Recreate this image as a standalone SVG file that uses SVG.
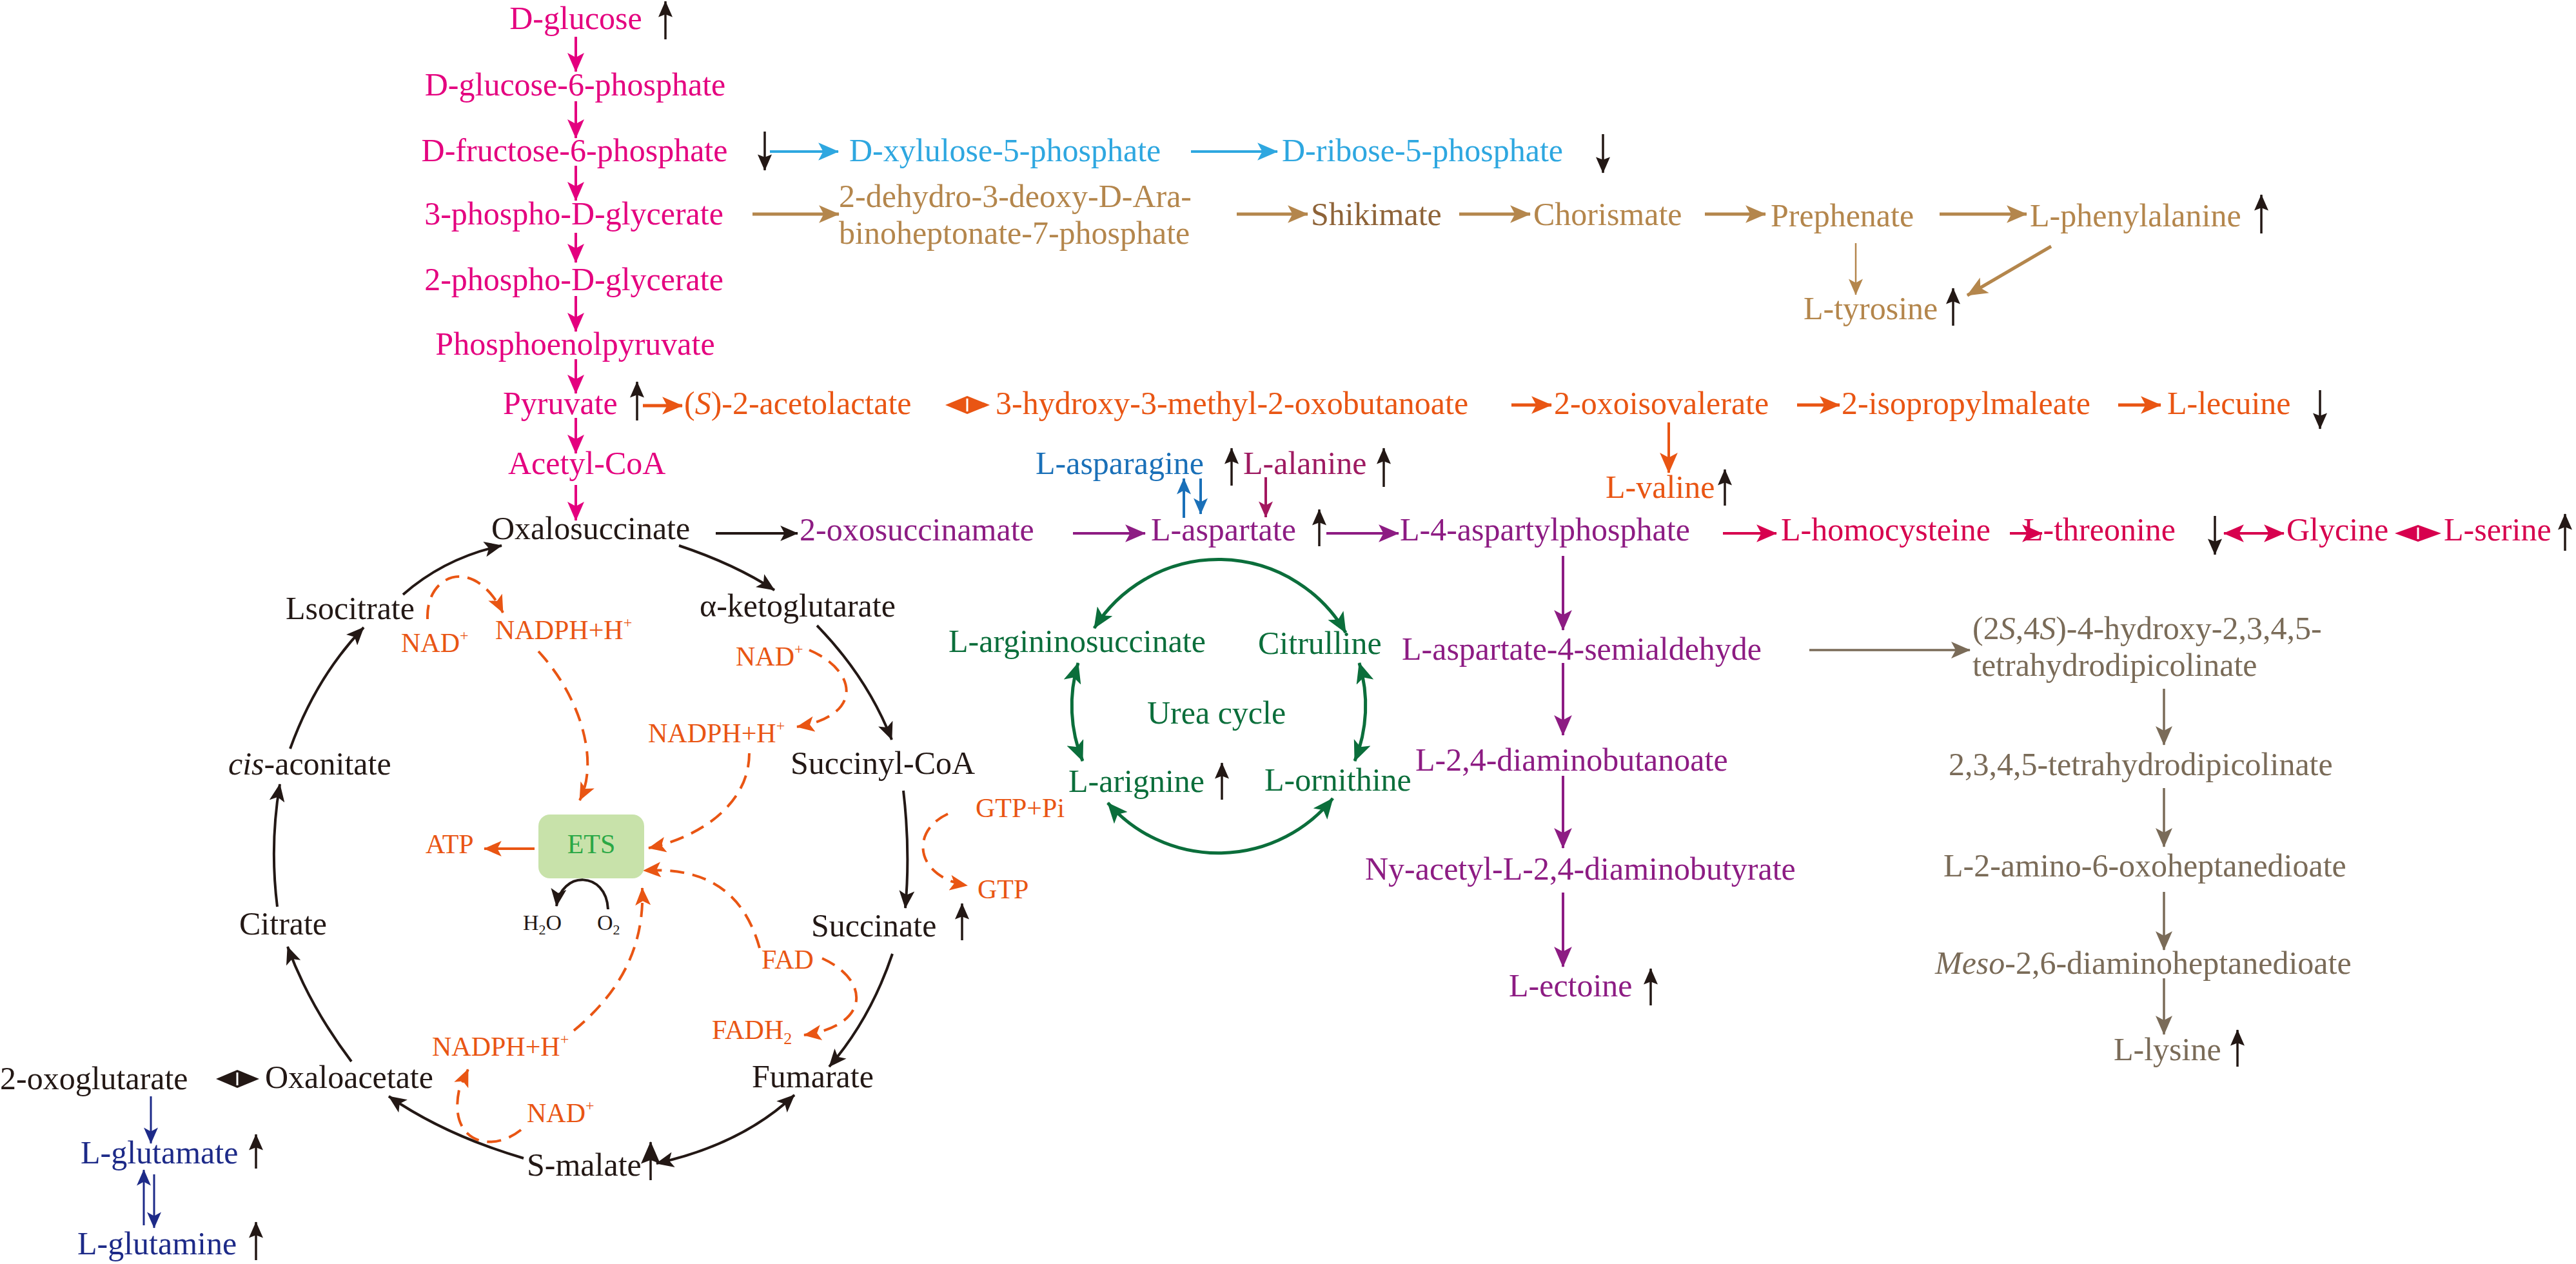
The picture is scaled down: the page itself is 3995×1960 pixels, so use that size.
<svg xmlns="http://www.w3.org/2000/svg" width="3995" height="1960" viewBox="0 0 3995 1960">
<defs>
<style>
text{font-family:"Liberation Serif","Times New Roman",serif;font-size:50px}
.s{font-size:42px}
.xs{font-size:34px}
.pk{fill:#e4007f}.bl{fill:#2ea7e0}.br{fill:#b4864c}.br2{fill:#8e6338}.or{fill:#e95513}.pu{fill:#8d1c83}
.rd{fill:#d7004e}.al{fill:#9e1a61}.ab{fill:#1a70b8}.gn{fill:#0b6e3b}.gy{fill:#7a6b58}.db{fill:#1d2a88}
.bk{fill:#231815}.et{fill:#2aa845}
.c{fill:none;stroke-width:4}
.d{stroke-dasharray:22 13}
.kPk{stroke:#e4007f;marker-end:url(#mPk)}
.kBl{stroke:#2ea7e0;marker-end:url(#mBl)}
.kBr{stroke:#b4864c;stroke-width:5;marker-end:url(#mBr)}
.kOr{stroke:#e95513;stroke-width:5;marker-end:url(#mOr)}
.kPu{stroke:#8d1c83;marker-end:url(#mPu)}
.kRd{stroke:#d7004e;marker-end:url(#mRd)}
.kGy{stroke:#7a6b58;stroke-width:3.5;marker-end:url(#mGy)}
.kDb{stroke:#1d2a88;stroke-width:3;marker-end:url(#mDb)}
.kGn{stroke:#0b6e3b;stroke-width:5;marker-end:url(#mGn);marker-start:url(#mGn)}
.kBk{stroke:#231815;marker-end:url(#mBk)}
.kInd{stroke:#231815;stroke-width:3.5;marker-end:url(#mInd)}
.kOd{stroke:#e95513;stroke-width:4;marker-end:url(#mOd)}
</style>
<marker id="mPk" viewBox="0 0 30 26" refX="29" refY="13" markerWidth="30" markerHeight="26" markerUnits="userSpaceOnUse" orient="auto-start-reverse"><path d="M0,0L30,13L0,26L7,13z" fill="#e4007f"/></marker>
<marker id="mBl" viewBox="0 0 30 26" refX="29" refY="13" markerWidth="32" markerHeight="28" markerUnits="userSpaceOnUse" orient="auto-start-reverse"><path d="M0,0L30,13L0,26L7,13z" fill="#2ea7e0"/></marker>
<marker id="mBr" viewBox="0 0 30 26" refX="29" refY="13" markerWidth="32" markerHeight="30" markerUnits="userSpaceOnUse" orient="auto-start-reverse"><path d="M0,0L30,13L0,26L7,13z" fill="#b4864c"/></marker>
<marker id="mBrS" viewBox="0 0 30 26" refX="29" refY="13" markerWidth="30" markerHeight="22" markerUnits="userSpaceOnUse" orient="auto-start-reverse"><path d="M0,0L30,13L0,26L7,13z" fill="#b4864c"/></marker>
<marker id="mOr" viewBox="0 0 30 26" refX="29" refY="13" markerWidth="32" markerHeight="30" markerUnits="userSpaceOnUse" orient="auto-start-reverse"><path d="M0,0L30,13L0,26L7,13z" fill="#e95513"/></marker>
<marker id="mPu" viewBox="0 0 30 26" refX="29" refY="13" markerWidth="32" markerHeight="28" markerUnits="userSpaceOnUse" orient="auto-start-reverse"><path d="M0,0L30,13L0,26L7,13z" fill="#8d1c83"/></marker>
<marker id="mRd" viewBox="0 0 30 26" refX="29" refY="13" markerWidth="32" markerHeight="28" markerUnits="userSpaceOnUse" orient="auto-start-reverse"><path d="M0,0L30,13L0,26L7,13z" fill="#d7004e"/></marker>
<marker id="mAl" viewBox="0 0 30 26" refX="29" refY="13" markerWidth="36" markerHeight="22" markerUnits="userSpaceOnUse" orient="auto-start-reverse"><path d="M0,0L30,13L0,26L7,13z" fill="#a3175f"/></marker>
<marker id="mAb" viewBox="0 0 30 26" refX="29" refY="13" markerWidth="38" markerHeight="22" markerUnits="userSpaceOnUse" orient="auto-start-reverse"><path d="M0,0L30,13L0,26L7,13z" fill="#1a70b8"/></marker>
<marker id="mGy" viewBox="0 0 30 26" refX="29" refY="13" markerWidth="30" markerHeight="26" markerUnits="userSpaceOnUse" orient="auto-start-reverse"><path d="M0,0L30,13L0,26L7,13z" fill="#7a6b58"/></marker>
<marker id="mDb" viewBox="0 0 30 26" refX="29" refY="13" markerWidth="40" markerHeight="22" markerUnits="userSpaceOnUse" orient="auto-start-reverse"><path d="M0,0L30,13L0,26L7,13z" fill="#1d2a88"/></marker>
<marker id="mGn" viewBox="0 0 30 26" refX="29" refY="13" markerWidth="32" markerHeight="28" markerUnits="userSpaceOnUse" orient="auto-start-reverse"><path d="M0,0L30,13L0,26L7,13z" fill="#0b6e3b"/></marker>
<marker id="mBk" viewBox="0 0 30 26" refX="29" refY="13" markerWidth="28" markerHeight="24" markerUnits="userSpaceOnUse" orient="auto-start-reverse"><path d="M0,0L30,13L0,26L7,13z" fill="#231815"/></marker>
<marker id="mInd" viewBox="0 0 30 26" refX="29" refY="13" markerWidth="40" markerHeight="22" markerUnits="userSpaceOnUse" orient="auto-start-reverse"><path d="M0,0L30,13L0,26L5,13z" fill="#231815"/></marker>
<marker id="mInd2" viewBox="0 0 30 26" refX="29" refY="13" markerWidth="36" markerHeight="30" markerUnits="userSpaceOnUse" orient="auto-start-reverse"><path d="M0,0L30,13L0,26L5,13z" fill="#231815"/></marker>
<marker id="mOd" viewBox="0 0 30 26" refX="29" refY="13" markerWidth="28" markerHeight="24" markerUnits="userSpaceOnUse" orient="auto-start-reverse"><path d="M0,0L30,13L0,26L7,13z" fill="#e95513"/></marker>
</defs>
<rect width="3995" height="1960" fill="#ffffff"/>

<g id="connectors">
  <!-- glycolysis -->
  <path class="c kPk" d="M893 57V111"/>
  <path class="c kPk" d="M893 157V214"/>
  <path class="c kPk" d="M893 257V311"/>
  <path class="c kPk" d="M893 361V407"/>
  <path class="c kPk" d="M893 459V514"/>
  <path class="c kPk" d="M893 557V610"/>
  <path class="c kPk" d="M893 648V703"/>
  <path class="c kPk" d="M893 752V807"/>
  <!-- pentose phosphate -->
  <path class="c kBl" d="M1194 235H1300"/>
  <path class="c kBl" d="M1847 235H1981"/>
  <!-- aromatic -->
  <path class="c kBr" d="M1167 332H1301"/>
  <path class="c kBr" d="M1918 332H2028"/>
  <path class="c kBr" d="M2263 332H2373"/>
  <path class="c kBr" d="M2644 332H2738"/>
  <path class="c kBr" d="M3008 332H3143"/>
  <path d="M2878 377V457" fill="none" stroke="#b4864c" stroke-width="2.5" marker-end="url(#mBrS)"/>
  <path class="c kBr" d="M3181 382L3051 458"/>
  <!-- branched chain -->
  <path class="c kOr" d="M997 629H1058"/>
  <path class="c kOr" d="M2344 628H2406"/>
  <path class="c kOr" d="M2787 628H2853"/>
  <path class="c kOr" d="M3285 628H3351"/>
  <path class="c" stroke="#e95513" stroke-width="3" marker-end="url(#mOr)" d="M2588 655V733"/>
  <polygon points="1466,628 1500,614 1535,628 1500,642" fill="#e95513"/>
  <path d="M1500 618V638" stroke="#ffffff" stroke-width="3"/>
  <!-- aspartate family -->
  <path class="c" stroke="#231815" stroke-width="4" marker-end="url(#mBk)" d="M1110 827H1237"/>
  <path class="c kPu" d="M1664 827H1776"/>
  <path class="c kPu" d="M2057 827H2169"/>
  <path class="c kPu" d="M2424 862V977"/>
  <path class="c kPu" d="M2424 1028V1140"/>
  <path class="c kPu" d="M2424 1203V1315"/>
  <path class="c kPu" d="M2424 1384V1499"/>
  <path class="c" stroke="#a3175f" stroke-width="3" marker-end="url(#mAl)" d="M1963 740V802"/>
  <path class="c" stroke="#1a70b8" stroke-width="3" marker-end="url(#mAb)" d="M1836 803V742"/>
  <path class="c" stroke="#1a70b8" stroke-width="3" marker-end="url(#mAb)" d="M1862 742V797"/>
  <path class="c kRd" d="M2672 827H2755"/>
  <path class="c kRd" d="M3117 827H3167"/>
  <path class="c kRd" style="marker-start:url(#mRd)" d="M3449 827H3542"/>
  <polygon points="3714,827 3750,814 3786,827 3750,840" fill="#d7004e"/>
  <path d="M3750 818V836" stroke="#ffffff" stroke-width="3"/>
  <!-- lysine -->
  <path class="c kGy" d="M2806 1008H3055"/>
  <path class="c kGy" d="M3356 1068V1155"/>
  <path class="c kGy" d="M3356 1222V1313"/>
  <path class="c kGy" d="M3356 1383V1473"/>
  <path class="c kGy" d="M3356 1517V1604"/>
  <!-- glutamate -->
  <path class="c kDb" d="M234 1700V1773"/>
  <path class="c kDb" d="M223 1900V1814"/>
  <path class="c kDb" d="M239 1821V1904"/>
  <polygon points="335,1673 368,1659 402,1673 368,1687" fill="#231815"/>
  <path d="M368 1663V1683" stroke="#ffffff" stroke-width="3"/>
  <!-- urea cycle -->
  <path class="c kGn" d="M1697 974A228 228 0 0 1 2087 981"/>
  <path class="c kGn" d="M2108 1028A228 228 0 0 1 2101 1180"/>
  <path class="c kGn" d="M2067 1238A228 228 0 0 1 1718 1245"/>
  <path class="c kGn" d="M1679 1180A228 228 0 0 1 1672 1028"/>
  <!-- TCA cycle -->
  <path class="c kBk" d="M625 922Q690 865 778 846"/>
  <path class="c kBk" d="M1053 846Q1140 875 1201 915"/>
  <path class="c kBk" d="M1267 970Q1345 1050 1383 1147"/>
  <path class="c kBk" d="M1401 1226Q1412 1320 1404 1408"/>
  <path class="c kBk" d="M1384 1479Q1350 1580 1286 1654"/>
  <path class="c kBk" style="marker-start:url(#mBk)" d="M1232 1698Q1150 1775 1018 1804"/>
  <path class="c kBk" d="M812 1796Q690 1760 603 1700"/>
  <path class="c kBk" d="M545 1646Q480 1560 446 1468"/>
  <path class="c kBk" d="M430 1406Q418 1310 434 1216"/>
  <path class="c kBk" d="M450 1161Q490 1050 564 973"/>
  <path class="c kBk" stroke-width="3.5" d="M943 1410C940 1350 870 1350 863 1405"/>
  <!-- energy (orange) -->
  <path class="c kOd" d="M829 1316H751"/>
  <path class="c d kOd" d="M663 960C660 890 735 860 780 950"/>
  <path class="c d kOd" d="M835 1010C900 1080 930 1180 899 1241"/>
  <path class="c d kOd" d="M1255 1008C1330 1040 1340 1110 1236 1127"/>
  <path class="c d kOd" d="M1162 1168C1162 1250 1080 1300 1006 1315"/>
  <path class="c d kOd" d="M1178 1470C1150 1370 1080 1345 998 1350"/>
  <path class="c d kOd" d="M1275 1486C1350 1520 1350 1590 1247 1605"/>
  <path class="c d kOd" d="M808 1752C760 1790 695 1770 712 1690L726 1658"/>
  <path class="c d kOd" d="M890 1598C960 1540 1000 1470 996 1377"/>
  <path class="c d kOd" d="M1470 1262C1410 1290 1420 1360 1500 1373"/>
  <!-- up/down indicators -->
  <path class="kInd" d="M1032 61V2"/>
  <path class="kInd" d="M1186 204V264"/>
  <path class="kInd" d="M2486 208V268"/>
  <path class="kInd" d="M3507 362V302"/>
  <path class="kInd" d="M3029 505V447"/>
  <path class="kInd" d="M988 652V592"/>
  <path class="kInd" d="M3598 605V665"/>
  <path class="kInd" d="M1910 753V695"/>
  <path class="kInd" d="M2146 755V695"/>
  <path class="kInd" d="M2675 784V728"/>
  <path class="kInd" d="M2046 847V790"/>
  <path class="kInd" d="M3435 800V860"/>
  <path class="kInd" d="M3978 854V797"/>
  <path class="kInd" d="M1895 1240V1183"/>
  <path class="kInd" d="M1492 1458V1401"/>
  <path class="kInd" d="M2560 1559V1502"/>
  <path class="kInd" d="M3470 1654V1597"/>
  <path class="kInd" d="M397 1812V1759"/>
  <path class="kInd" d="M397 1954V1895"/>
  <path d="M1009 1830V1771" stroke="#231815" stroke-width="3.5" marker-end="url(#mInd2)"/>
</g>

<g id="nodes">
  <g id="n-dglucose"><text class="pk" x="893" y="45" text-anchor="middle">D-glucose</text></g>
  <g id="n-g6p"><text class="pk" x="892" y="148" text-anchor="middle">D-glucose-6-phosphate</text></g>
  <g id="n-f6p"><text class="pk" x="891" y="250" text-anchor="middle">D-fructose-6-phosphate</text></g>
  <g id="n-3pg"><text class="pk" x="890" y="348" text-anchor="middle">3-phospho-D-glycerate</text></g>
  <g id="n-2pg"><text class="pk" x="890" y="450" text-anchor="middle">2-phospho-D-glycerate</text></g>
  <g id="n-pep"><text class="pk" x="892" y="550" text-anchor="middle">Phosphoenolpyruvate</text></g>
  <g id="n-pyruvate"><text class="pk" x="780" y="642">Pyruvate</text></g>
  <g id="n-acetylcoa"><text class="pk" x="788" y="735">Acetyl-CoA</text></g>

  <g id="n-xylulose"><text class="bl" x="1317" y="250">D-xylulose-5-phosphate</text></g>
  <g id="n-ribose"><text class="bl" x="1988" y="250">D-ribose-5-phosphate</text></g>

  <g id="n-dahp"><text class="br" x="1301" y="321">2-dehydro-3-deoxy-D-Ara-</text><text class="br" x="1301" y="378">binoheptonate-7-phosphate</text></g>
  <g id="n-shikimate"><text class="br2" x="2033" y="349">Shikimate</text></g>
  <g id="n-chorismate"><text class="br" x="2378" y="349">Chorismate</text></g>
  <g id="n-prephenate"><text class="br" x="2746" y="351">Prephenate</text></g>
  <g id="n-phe"><text class="br" x="3148" y="351">L-phenylalanine</text></g>
  <g id="n-tyr"><text class="br" x="2797" y="495">L-tyrosine</text></g>

  <g id="n-acetolactate"><text class="or" x="1061" y="642">(<tspan font-style="italic">S</tspan>)-2-acetolactate</text></g>
  <g id="n-hmob"><text class="or" x="1544" y="642">3-hydroxy-3-methyl-2-oxobutanoate</text></g>
  <g id="n-oxoisovalerate"><text class="or" x="2410" y="642">2-oxoisovalerate</text></g>
  <g id="n-ipm"><text class="or" x="2856" y="642">2-isopropylmaleate</text></g>
  <g id="n-leu"><text class="or" x="3361" y="642">L-lecuine</text></g>
  <g id="n-val"><text class="or" x="2490" y="772">L-valine</text></g>

  <g id="n-asn"><text class="ab" x="1606" y="735">L-asparagine</text></g>
  <g id="n-ala"><text class="al" x="1928" y="735">L-alanine</text></g>
  <g id="n-oxosuccinamate"><text class="pu" x="1240" y="838">2-oxosuccinamate</text></g>
  <g id="n-asp"><text class="pu" x="1785" y="838">L-aspartate</text></g>
  <g id="n-asp4p"><text class="pu" x="2171" y="838">L-4-aspartylphosphate</text></g>
  <g id="n-hcy"><text class="rd" x="2762" y="838">L-homocysteine</text></g>
  <g id="n-thr"><text class="rd" x="3138" y="838">L-threonine</text></g>
  <g id="n-gly"><text class="rd" x="3546" y="838">Glycine</text></g>
  <g id="n-ser"><text class="rd" x="3790" y="838">L-serine</text></g>

  <g id="n-asa"><text class="pu" x="2174" y="1023">L-aspartate-4-semialdehyde</text></g>
  <g id="n-dab"><text class="pu" x="2195" y="1195">L-2,4-diaminobutanoate</text></g>
  <g id="n-adab"><text class="pu" x="2117" y="1364">Ny-acetyl-L-2,4-diaminobutyrate</text></g>
  <g id="n-ectoine"><text class="pu" x="2340" y="1545">L-ectoine</text></g>

  <g id="n-htpa"><text class="gy" x="3059" y="991">(2<tspan font-style="italic">S</tspan>,4<tspan font-style="italic">S</tspan>)-4-hydroxy-2,3,4,5-</text><text class="gy" x="3059" y="1048">tetrahydrodipicolinate</text></g>
  <g id="n-thdp"><text class="gy" x="3022" y="1202">2,3,4,5-tetrahydrodipicolinate</text></g>
  <g id="n-aoh"><text class="gy" x="3014" y="1359">L-2-amino-6-oxoheptanedioate</text></g>
  <g id="n-dap"><text class="gy" x="3001" y="1510"><tspan font-style="italic">Meso</tspan>-2,6-diaminoheptanedioate</text></g>
  <g id="n-lys"><text class="gy" x="3278" y="1644">L-lysine</text></g>

  <g id="n-argsucc"><text class="gn" x="1471" y="1011">L-argininosuccinate</text></g>
  <g id="n-citrulline"><text class="gn" x="1951" y="1014">Citrulline</text></g>
  <g id="n-ureacycle"><text class="gn" x="1779" y="1122">Urea cycle</text></g>
  <g id="n-arg"><text class="gn" x="1657" y="1228">L-arignine</text></g>
  <g id="n-orn"><text class="gn" x="1961" y="1226">L-ornithine</text></g>

  <g id="n-oxalosuccinate"><text class="bk" x="762" y="836">Oxalosuccinate</text></g>
  <g id="n-akg"><text class="bk" x="1085" y="956">α-ketoglutarate</text></g>
  <g id="n-isocitrate"><text class="bk" x="443" y="960">Lsocitrate</text></g>
  <g id="n-succcoa"><text class="bk" x="1226" y="1200">Succinyl-CoA</text></g>
  <g id="n-cisaconitate"><text class="bk" x="354" y="1201"><tspan font-style="italic">cis</tspan>-aconitate</text></g>
  <g id="n-citrate"><text class="bk" x="371" y="1449">Citrate</text></g>
  <g id="n-succinate"><text class="bk" x="1258" y="1452">Succinate</text></g>
  <g id="n-oxoglutarate"><text class="bk" x="0" y="1689">2-oxoglutarate</text></g>
  <g id="n-oxaloacetate"><text class="bk" x="411" y="1687">Oxaloacetate</text></g>
  <g id="n-fumarate"><text class="bk" x="1166" y="1686">Fumarate</text></g>
  <g id="n-malate"><text class="bk" x="817" y="1823">S-malate</text></g>
  <g id="n-glu"><text class="db" x="125" y="1804">L-glutamate</text></g>
  <g id="n-gln"><text class="db" x="120" y="1945">L-glutamine</text></g>

  <g id="n-ets"><rect x="835" y="1263" width="164" height="99" rx="18" fill="#c8e2aa"/><text class="s et" x="917" y="1323" text-anchor="middle">ETS</text></g>
  <g id="n-atp"><text class="s or" x="660" y="1323">ATP</text></g>
  <g id="n-h2o"><text class="xs bk" x="811" y="1442">H<tspan dy="7" font-size="22">2</tspan><tspan dy="-7">O</tspan></text></g>
  <g id="n-o2"><text class="xs bk" x="926" y="1442">O<tspan dy="7" font-size="22">2</tspan></text></g>
  <g id="n-nad1"><text class="s or" x="622" y="1011">NAD<tspan dy="-18" font-size="24">+</tspan></text></g>
  <g id="n-nadph1"><text class="s or" x="768" y="991">NADPH+H<tspan dy="-18" font-size="24">+</tspan></text></g>
  <g id="n-nad2"><text class="s or" x="1141" y="1032">NAD<tspan dy="-18" font-size="24">+</tspan></text></g>
  <g id="n-nadph2"><text class="s or" x="1005" y="1151">NADPH+H<tspan dy="-18" font-size="24">+</tspan></text></g>
  <g id="n-gtppi"><text class="s or" x="1513" y="1267">GTP+Pi</text></g>
  <g id="n-gtp"><text class="s or" x="1516" y="1393">GTP</text></g>
  <g id="n-fad"><text class="s or" x="1181" y="1502">FAD</text></g>
  <g id="n-fadh2"><text class="s or" x="1104" y="1611">FADH<tspan dy="8" font-size="26">2</tspan></text></g>
  <g id="n-nadph3"><text class="s or" x="670" y="1637">NADPH+H<tspan dy="-18" font-size="24">+</tspan></text></g>
  <g id="n-nad3"><text class="s or" x="817" y="1740">NAD<tspan dy="-18" font-size="24">+</tspan></text></g>
</g>
</svg>
